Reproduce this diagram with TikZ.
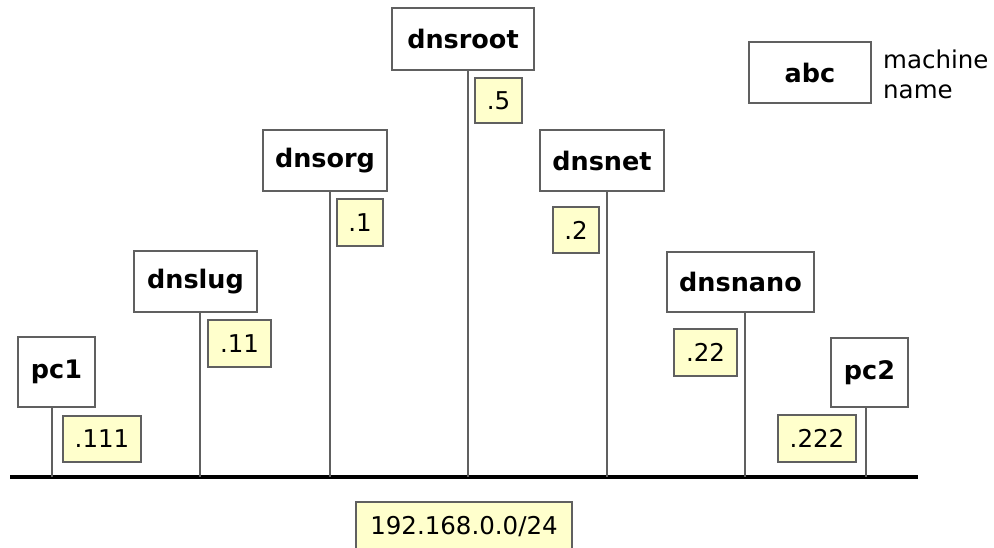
\documentclass[tikz,border=0pt]{standalone}
\usepackage{fontspec}
\setmainfont{DejaVu Sans}
\definecolor{addrfill}{HTML}{FFFFCC}
\definecolor{edge}{HTML}{606060}
\begin{document}
\begin{tikzpicture}[x=1pt,y=-1pt,
  host/.style={draw=edge,line width=1.4pt,fill=white,inner sep=0pt,
    font=\fontsize{25.5}{30}\selectfont\bfseries},
  addr/.style={draw=edge,line width=1.4pt,fill=addrfill,inner sep=0pt,
    font=\fontsize{24.5}{30}\selectfont},
  wire/.style={draw=edge,line width=1.4pt},
  bus/.style={draw=black,line width=3.5pt},
  legendtext/.style={anchor=base west,inner sep=0pt,
    font=\fontsize{24.5}{30}\selectfont}]
\useasboundingbox (0,0) rectangle (994,547);

% shared segment
\coordinate (busL) at (10,477);
\coordinate (busR) at (918,477);
\draw[bus] (busL) -- (busR);

% taps on the segment
\coordinate (t1) at (52,477);
\coordinate (t2) at (200,477);
\coordinate (t3) at (330,477);
\coordinate (t4) at (468,477);
\coordinate (t5) at (607,477);
\coordinate (t6) at (745,477);
\coordinate (t7) at (866,477);

% hosts
\node[host,minimum width=77pt,minimum height=70pt] (pc1) at (56.5,372) {pc1};
\node[host,minimum width=123pt,minimum height=61pt] (dnslug) at (195.5,281.5) {dnslug};
\node[host,minimum width=124pt,minimum height=61pt] (dnsorg) at (325,160.5) {dnsorg};
\node[host,minimum width=142pt,minimum height=62pt] (dnsroot) at (463,39) {dnsroot};
\node[host,minimum width=124pt,minimum height=61pt] (dnsnet) at (602,160.5) {dnsnet};
\node[host,minimum width=147pt,minimum height=60pt] (dnsnano) at (740.5,282) {dnsnano};
\node[host,minimum width=77pt,minimum height=69pt] (pc2) at (869.5,372.5) {pc2};

% drops from hosts to the segment
\draw[wire] (t1 |- pc1.south) -- (t1);
\draw[wire] (t2 |- dnslug.south) -- (t2);
\draw[wire] (t3 |- dnsorg.south) -- (t3);
\draw[wire] (t4 |- dnsroot.south) -- (t4);
\draw[wire] (t5 |- dnsnet.south) -- (t5);
\draw[wire] (t6 |- dnsnano.south) -- (t6);
\draw[wire] (t7 |- pc2.south) -- (t7);

% host addresses
\node[addr,minimum width=78pt,minimum height=46pt] (a1) at (102,439) {.111};
\node[addr,minimum width=63pt,minimum height=47pt] (a2) at (239.5,343.5) {.11};
\node[addr,minimum width=46pt,minimum height=47pt] (a3) at (360,222.5) {.1};
\node[addr,minimum width=47pt,minimum height=45pt] (a4) at (498.5,100.5) {.5};
\node[addr,minimum width=46pt,minimum height=46pt] (a5) at (576,230) {.2};
\node[addr,minimum width=63pt,minimum height=47pt] (a6) at (705.5,352.5) {.22};
\node[addr,minimum width=78pt,minimum height=47pt] (a7) at (817,438.5) {.222};

% network address
\node[addr,minimum width=216pt,minimum height=50pt] (net) at (464,527) {192.168.0.0/24};

% legend
\node[host,minimum width=122pt,minimum height=61pt] (abc) at (810,72.5) {abc};
\node[legendtext] (legend1) at (883,68) {machine};
\node[legendtext] (legend2) at (883,98) {name};
\end{tikzpicture}
\end{document}
